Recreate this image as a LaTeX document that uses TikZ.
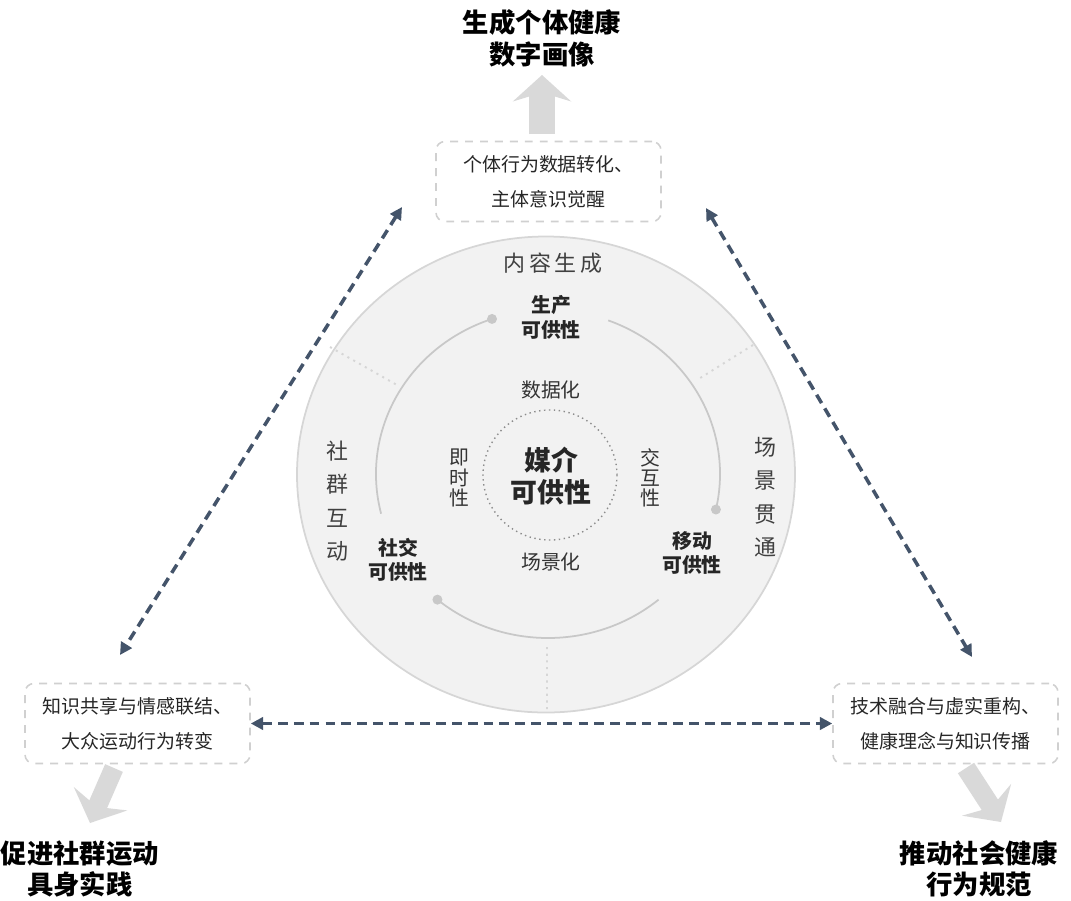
\documentclass[tikz,border=0pt]{standalone}
\usepackage{fontspec}
\setmainfont{Noto Sans CJK SC}
\usetikzlibrary{arrows.meta}
\definecolor{linkblue}{HTML}{44546A}
\definecolor{ringfill}{HTML}{F2F2F2}
\definecolor{ringedge}{HTML}{D6D6D6}
\definecolor{arcgray}{HTML}{C8C8C8}
\definecolor{boxdash}{HTML}{D0D0D0}
\definecolor{bigarrowgray}{HTML}{D9D9D9}
\definecolor{labelgray}{HTML}{404040}
\tikzset{
  affbox/.style={draw=boxdash, line width=0.9pt, dash pattern=on 4.5pt off 4pt,
    rounded corners=5pt, minimum width=4.5cm, minimum height=1.6cm, align=center,
    font=\fontsize{10.8}{20}\selectfont, text=black!85},
  goal/.style={font=\bfseries\fontsize{15}{18}\selectfont, align=center, text=black},
  afflabel/.style={font=\bfseries\fontsize{11.3}{14}\selectfont, align=center, text=black!85},
  ringlabel/.style={font=\fontsize{11.3}{11.5}\selectfont, align=center, text=black!80},
  sidelabel/.style={font=\fontsize{12.5}{19}\selectfont, align=center, text=labelgray},
  linkarrow/.style={draw=linkblue, line width=2pt, dash pattern=on 5.5pt off 3.5pt,
    {Triangle[length=7pt,width=7pt]}-{Triangle[length=7pt,width=7pt]}},
  bigarrow/.style={draw=bigarrowgray, line width=11pt,
    -{Stealth[length=15pt,width=33pt,inset=5pt]}},
  divider/.style={draw=ringedge, line width=1.1pt, dash pattern=on 1.2pt off 2.6pt}
}
\begin{document}
\begin{tikzpicture}[x=0.02cm,y=-0.02cm]
    \useasboundingbox (0,0) rectangle (1071,900);
    \draw[fill=ringfill, draw=ringedge, line width=1pt] (546,474.5) ellipse[x radius=249, y radius=238];
    \draw[divider] (330,347) -- (397,385) (753,345) -- (697,380) (547,647) -- (547,710);
    \foreach \a/\b in {-194/-109, -310/-230, -69.5/12.5} {
        \draw[arcgray, line width=1pt] (548,474) ++(\a:172 and 164)
            arc[start angle=\a, end angle=\b, x radius=172, y radius=164];
        \fill[arcgray] (548,474) ++(\b:172 and 164) circle[radius=5];
    }
    \draw[black!45, line width=0.8pt, dash pattern=on 0.8pt off 2pt] (550,475) ellipse[x radius=67, y radius=65];
    \node[sidelabel, font=\fontsize{12.5}{19}\selectfont\addfontfeatures{LetterSpace=18}] (content) at (553,263) {内容生成};
    \node[sidelabel] (community) at (337,501) {社\\群\\互\\动};
    \node[sidelabel] (scene) at (765,497) {场\\景\\贯\\通};
    \node[afflabel] (produce) at (551,317.5) {生产\\可供性};
    \node[afflabel] (social) at (398,560) {社交\\可供性};
    \node[afflabel] (mobile) at (692,553) {移动\\可供性};
    \node[afflabel, font=\bfseries\fontsize{15.3}{18}\selectfont] (media) at (551,476) {媒介\\可供性};
    \node[ringlabel] (datafy) at (551,390) {数据化};
    \node[ringlabel] (scenefy) at (551,562) {场景化};
    \node[ringlabel] (instant) at (459,478) {即\\时\\性};
    \node[ringlabel] (interact) at (650,478) {交\\互\\性};
    \node[affbox] (topbox) at (548.5,181.5) {个体行为数据转化、\\主体意识觉醒};
    \node[affbox] (leftbox) at (137.5,723.5) {知识共享与情感联结、\\大众运动行为转变};
    \node[affbox] (rightbox) at (945.5,723.5) {技术融合与虚实重构、\\健康理念与知识传播};
    \node[goal] (topgoal) at (542,38.5) {生成个体健康\\数字画像};
    \node[goal] (leftgoal) at (80,869) {促进社群运动\\具身实践};
    \node[goal] (rightgoal) at (979,869) {推动社会健康\\行为规范};
    \draw[bigarrow, line width=15pt] (542,134) -- (542,75);
    \draw[bigarrow] (114,768) -- (90,823);
    \draw[bigarrow] (966,768) -- (1001,822);
    \coordinate (tl) at (402,207);
    \coordinate (bl) at (120,655);
    \coordinate (tr) at (706,208);
    \coordinate (br) at (972,657);
    \draw[linkarrow] (tl) -- (bl);
    \draw[linkarrow] (tr) -- (br);
    \draw[linkarrow] (leftbox.east) -- (rightbox.west);
\end{tikzpicture}
\end{document}
